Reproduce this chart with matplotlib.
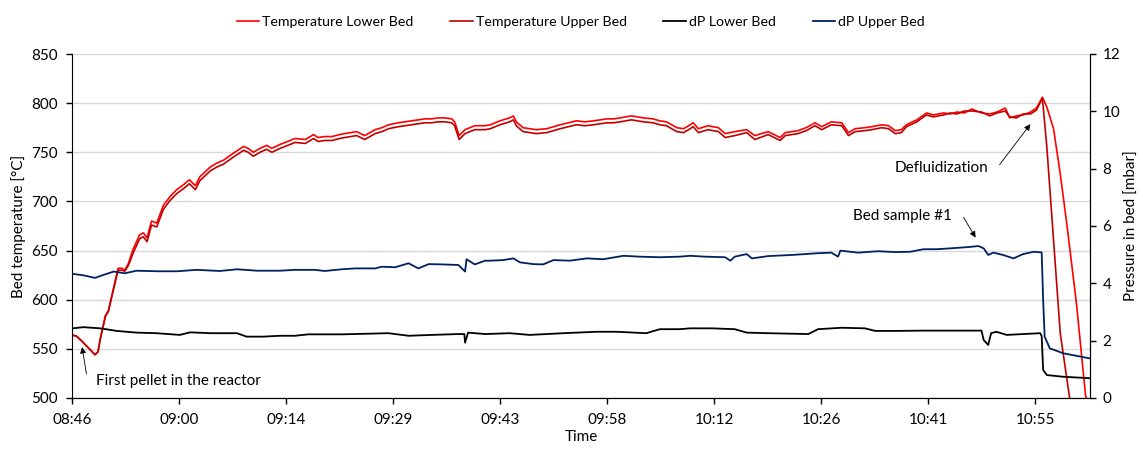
import matplotlib.pyplot as plt

plt.rcParams['font.family'] = ['Lato', 'DejaVu Sans']

# time is given in minutes after 08:46
tick_minutes = [0, 14.4, 28.8, 43.2, 57.6, 72.0, 86.4, 100.8, 115.2, 129.6]
tick_labels = ['08:46', '09:00', '09:14', '09:29', '09:43', '09:58', '10:12', '10:26', '10:41', '10:55']

t_temp_lower = [0.0, 0.6, 1.3, 2.2, 3.1, 3.5, 3.8, 4.5, 4.9, 5.6, 6.2, 6.7, 7.1, 7.6, 8.2, 9.1, 9.6, 10.1,
                10.7, 11.4, 12.3, 13.2, 14.1, 15.0, 15.8, 16.6, 17.2, 18.6, 19.5, 20.4, 21.7, 23.1, 23.7,
                24.4, 25.3, 26.2, 26.9, 28.0, 28.7, 30.0, 31.4, 32.5, 33.1, 34.0, 35.0, 36.0, 36.7, 37.5,
                38.3, 39.4, 40.8, 41.7, 42.6, 43.9, 44.8, 45.7, 46.6, 47.5, 48.4, 49.3, 50.2, 51.1, 51.5,
                52.1, 52.9, 54.2, 55.6, 56.3, 57.6, 58.9, 59.4, 59.8, 60.7, 61.6, 62.5, 63.9, 64.8, 65.7,
                66.8, 67.9, 69.0, 70.2, 71.1, 72.0, 72.9, 73.8, 74.5, 75.3, 76.1, 76.9, 78.2, 79.1, 80.0,
                81.4, 82.3, 83.2, 83.6, 84.3, 85.6, 87.0, 87.9, 89.2, 90.8, 91.9, 93.7, 95.3, 96.0, 97.7,
                98.8, 100.0, 100.9, 102.2, 103.6, 104.5, 105.4, 106.7, 107.6, 109.0, 109.9, 110.8, 111.6,
                112.3, 113.7, 115.0, 115.9, 117.3, 118.2, 119.1, 120.1, 121.1, 122.4, 123.5, 124.5, 125.6,
                126.2, 127.1, 128.0, 129.0, 129.8, 130.6, 131.2, 132.1, 133.0, 133.9, 135.2, 136.4, 136.7]
temp_lower = [564, 563, 558, 551, 544, 547, 560, 584, 589, 612, 632, 632, 630, 637, 651, 666, 668, 663,
              680, 678, 696, 705, 712, 717, 722, 716, 725, 735, 739, 742, 749, 756, 754,
              750, 754, 757, 754, 758, 760, 764, 763, 768, 765, 766, 766, 768, 769, 770,
              771, 767, 773, 775, 778, 780, 781, 782, 783, 784, 784, 785, 785, 784, 781,
              767, 773, 777, 777, 778, 782, 785, 787, 781, 775, 774, 773, 774, 776, 778,
              780, 782, 781, 782, 783, 784, 784, 785, 786, 787, 786, 785, 784, 782, 781,
              775, 774, 778, 780, 774, 777, 775, 769, 771, 773, 767, 771, 765, 770, 772,
              775, 780, 776, 781, 780, 770, 774, 775, 776, 778, 777, 772, 773,
              778, 783, 790, 788, 790, 789, 791, 790, 794, 790, 789, 791, 795,
              785, 787, 788, 791, 795, 806, 796, 774, 728, 676, 595, 503, 495]

t_temp_upper = [0.0, 0.6, 1.3, 2.2, 3.1, 3.5, 3.8, 4.5, 4.9, 5.6, 6.2, 6.7, 7.1, 7.6, 8.2, 9.1, 9.6, 10.1,
                10.7, 11.4, 12.3, 13.2, 14.1, 15.0, 15.8, 16.6, 17.2, 18.6, 19.5, 20.4, 21.7, 23.1, 23.7,
                24.4, 25.3, 26.2, 26.9, 28.0, 28.7, 30.0, 31.4, 32.5, 33.1, 34.0, 35.0, 36.0, 36.7, 37.5,
                38.3, 39.4, 40.8, 41.7, 42.6, 43.9, 44.8, 45.7, 46.6, 47.5, 48.4, 49.3, 50.2, 51.1, 51.5,
                52.1, 52.9, 54.2, 55.6, 56.3, 57.6, 58.9, 59.4, 59.8, 60.7, 61.6, 62.5, 63.9, 64.8, 65.7,
                66.8, 67.9, 69.0, 70.2, 71.1, 72.0, 72.9, 73.8, 74.5, 75.3, 76.1, 76.9, 78.2, 79.1, 80.0,
                81.4, 82.3, 83.2, 83.6, 84.3, 85.6, 87.0, 87.9, 89.2, 90.8, 91.9, 93.7, 95.3, 96.0, 97.7,
                98.8, 100.0, 100.9, 102.2, 103.6, 104.5, 105.4, 106.7, 107.6, 109.0, 109.9, 110.8, 111.6,
                112.3, 113.7, 115.0, 115.9, 117.3, 118.2, 119.1, 120.1, 121.1, 122.4, 123.5, 124.5, 125.6,
                126.2, 127.1, 128.0, 129.0, 129.8, 130.6, 131.2, 132.1, 133.0, 134.3]
temp_upper = [564, 563, 558, 551, 544, 547, 560, 583, 588, 611, 630, 630, 629, 635, 647, 662, 664, 659,
              676, 674, 692, 701, 708, 713, 718, 712, 721, 731, 735, 738, 745, 752, 750,
              746, 750, 753, 750, 754, 756, 760, 759, 764, 761, 762, 762, 764, 765, 766,
              767, 763, 769, 771, 774, 776, 777, 778, 779, 780, 780, 781, 781, 780, 777,
              763, 769, 773, 773, 774, 778, 781, 783, 777, 771, 770, 769, 770, 772, 774,
              776, 778, 777, 778, 779, 780, 780, 781, 782, 783, 782, 781, 780, 778, 777,
              771, 770, 774, 776, 770, 773, 771, 765, 767, 770, 763, 768, 762, 767, 769,
              772, 777, 773, 778, 777, 767, 771, 772, 773, 775, 774, 769, 770,
              776, 781, 788, 786, 788, 790, 789, 792, 792, 791, 787, 790, 792,
              786, 785, 789, 789, 793, 805, 755, 660, 566, 498]

t_dp_lower = [0.1, 1.5, 3.8, 6.0, 8.7, 11.4, 14.5, 15.9, 18.6, 22.2, 23.5, 25.7, 28.0, 30.0, 31.8, 36.3,
              42.6, 45.3, 48.4, 52.0, 52.8, 52.9, 53.3, 55.6, 58.9, 61.6, 66.1, 70.6, 73.3, 77.3, 79.1,
              81.8, 83.2, 86.1, 89.2, 90.8, 93.7, 99.1, 100.4, 103.6, 106.7, 108.1, 110.8, 114.6, 119.1,
              122.4, 122.7, 123.3, 123.7, 124.4, 125.8, 128.0, 130.3, 130.5, 130.7, 131.2, 133.4, 137.0]
dp_lower = [2.43, 2.47, 2.43, 2.34, 2.28, 2.26, 2.20, 2.29, 2.26, 2.26, 2.14, 2.14, 2.17, 2.17, 2.22, 2.22,
            2.26, 2.17, 2.20, 2.23, 2.23, 1.93, 2.28, 2.23, 2.26, 2.20, 2.26, 2.31, 2.31, 2.26, 2.40,
            2.40, 2.43, 2.43, 2.40, 2.28, 2.26, 2.23, 2.40, 2.45, 2.43, 2.34, 2.34, 2.35, 2.35,
            2.35, 2.02, 1.85, 2.26, 2.31, 2.20, 2.23, 2.26, 2.16, 0.98, 0.80, 0.74, 0.69]

t_dp_upper = [0.1, 1.5, 3.1, 4.2, 5.6, 7.1, 8.7, 11.6, 14.1, 16.8, 19.9, 22.2, 24.9, 28.0, 30.0, 32.7,
              34.0, 36.3, 38.1, 40.8, 41.7, 43.5, 45.3, 46.6, 48.0, 49.8, 52.0, 52.9, 53.1, 54.2, 55.6,
              56.3, 58.0, 59.4, 60.3, 62.1, 63.4, 64.8, 67.0, 69.3, 71.5, 74.2, 76.4, 79.1, 81.8, 83.2,
              85.2, 87.9, 88.6, 89.2, 90.8, 91.5, 93.7, 96.9, 100.4, 102.2, 103.1, 103.4, 105.8, 108.5,
              110.8, 112.8, 114.6, 116.4, 118.2, 120.4, 122.0, 122.7, 123.3, 124.0, 125.3, 126.7, 128.0,
              129.4, 130.5, 130.7, 130.9, 131.6, 133.4, 135.2, 137.0]
dp_upper = [4.33, 4.28, 4.19, 4.29, 4.41, 4.35, 4.44, 4.42, 4.42, 4.47, 4.43, 4.49, 4.44, 4.44, 4.47, 4.47,
            4.43, 4.49, 4.52, 4.52, 4.58, 4.56, 4.70, 4.52, 4.67, 4.66, 4.64, 4.41, 4.84, 4.66, 4.79,
            4.79, 4.81, 4.87, 4.73, 4.67, 4.66, 4.81, 4.79, 4.87, 4.84, 4.96, 4.93, 4.91, 4.93, 4.96,
            4.93, 4.91, 4.79, 4.93, 5.02, 4.87, 4.95, 4.99, 5.05, 5.07, 4.93, 5.14, 5.07, 5.12,
            5.09, 5.10, 5.19, 5.19, 5.22, 5.26, 5.30, 5.22, 4.99, 5.07, 4.99, 4.87, 5.02,
            5.10, 5.08, 3.42, 2.14, 1.73, 1.56, 1.47, 1.38]


fig = plt.figure(figsize=(11.43, 4.5), dpi=100)
ax = fig.add_axes([0.063, 0.1156, 0.8906, 0.7644])
ax2 = ax.twinx()

l1, = ax.plot(t_temp_lower, temp_lower, color='#FF0000', lw=1.2, label='Temperature Lower Bed')
l2, = ax.plot(t_temp_upper, temp_upper, color='#C00000', lw=1.2, label='Temperature Upper Bed')
l3, = ax2.plot(t_dp_lower, dp_lower, color='black', lw=1.3, label='dP Lower Bed')
l4, = ax2.plot(t_dp_upper, dp_upper, color='#002060', lw=1.3, label='dP Upper Bed')

ax.set_xlim(0, 137)
ax.set_ylim(500, 850)
ax.set_yticks(range(500, 851, 50))
ax2.set_ylim(0, 12)
ax2.set_yticks(range(0, 13, 2))
ax.set_xticks(tick_minutes)
ax.set_xticklabels(tick_labels)

ax.grid(axis='y', color='#D9D9D9', lw=1)
ax.set_axisbelow(True)
for a in (ax, ax2):
    a.spines['top'].set_visible(False)
    a.tick_params(labelsize=11, length=4, width=1, direction='out')
ax.tick_params(axis='x', pad=7)
ax.tick_params(axis='y', pad=6)
ax2.tick_params(axis='y', pad=5)
ax2.spines['left'].set_visible(False)

ax.set_ylabel('Bed temperature [°C]', fontsize=11, labelpad=4)
ax2.set_ylabel('Pressure in bed [mbar]', fontsize=11, labelpad=3)
ax.set_xlabel('Time', fontsize=11, labelpad=2)

arrow = dict(arrowstyle='-|>', color='black', lw=0.6, mutation_scale=9)
ax.annotate('', xy=(1.3, 554.6), xytext=(2.0, 521.7), arrowprops=arrow)
ax.text(3.2, 517.3, 'First pellet in the reactor', fontsize=11, va='center', ha='left')
ax.annotate('', xy=(129.2, 780.8), xytext=(124.6, 735), arrowprops=arrow)
ax.text(123.3, 734, 'Defluidization', fontsize=11, va='center', ha='right')
ax.annotate('', xy=(121.8, 660.8), xytext=(119.8, 686.2), arrowprops=arrow)
ax.text(118.4, 685, 'Bed sample #1', fontsize=11, va='center', ha='right')

fig.legend(handles=[l1, l2, l3, l4], loc='center', bbox_to_anchor=(0.508, 0.951), ncol=4,
           frameon=False, fontsize=10.2, handlelength=1.6, handletextpad=0.2, columnspacing=2.6)

fig.savefig('out.png', dpi=100)
